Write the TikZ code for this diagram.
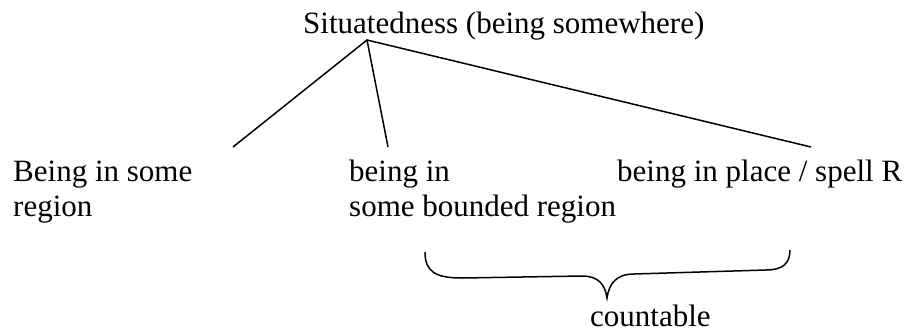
\documentclass[tikz,border=0pt]{standalone}
\usepackage{fontspec}
\setmainfont{Liberation Serif}
\begin{document}
\begin{tikzpicture}[x=1pt,y=-1pt,
  lbl/.style={inner sep=0pt, anchor=base west, font=\fontsize{31}{31}\selectfont},
  edge/.style={line width=1.5pt}]
\useasboundingbox (0,0) rectangle (912,332);
\node[lbl] (root) at (303,33) {Situatedness (being somewhere)};
\coordinate (apex) at (367,40);
\node[lbl] (a1) at (13,181) {Being in some};
\node[lbl] (a2) at (13,216) {region};
\node[lbl] (b1) at (349,181) {being in};
\node[lbl] (b2) at (349,216) {some bounded region};
\node[lbl] (c1) at (617,181) {being in place / spell R};
\coordinate (ea) at (233,147);
\coordinate (eb) at (388,147);
\coordinate (ec) at (811,147);
\draw[edge] (ea) -- (apex) -- (ec);
\draw[edge] (apex) -- (eb);
\coordinate (bl) at (425,252);
\coordinate (br) at (790,250);
\coordinate (tip) at (607,298);
\draw[edge] (bl) .. controls (425,272) and (436,278) .. (462,278)
  -- (582,276) .. controls (598,276) and (605,284) .. (tip)
  .. controls (609,284) and (616,274) .. (634,274)
  -- (766,270) .. controls (782,270) and (790,264) .. (br);
\node[lbl] (cnt) at (590,326) {countable};
\end{tikzpicture}
\end{document}
